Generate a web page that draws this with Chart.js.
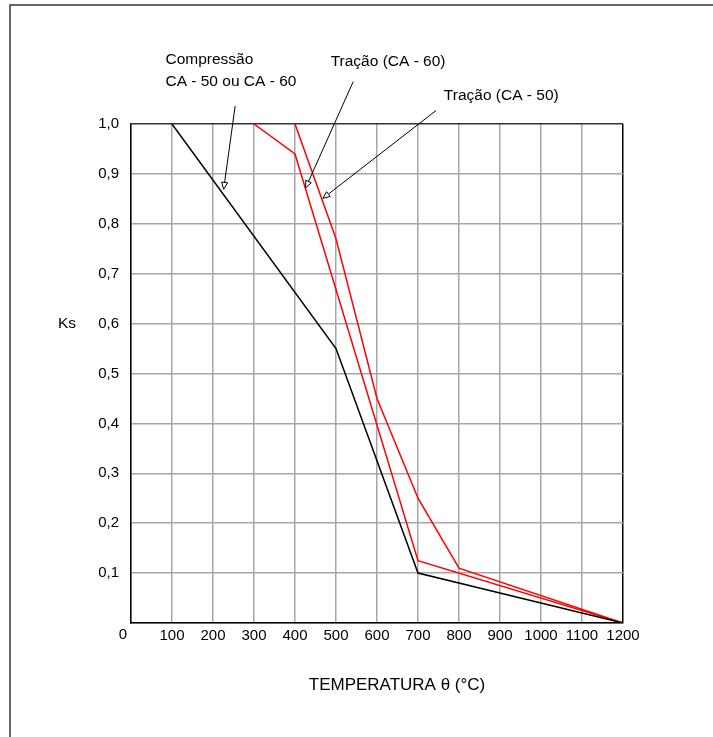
<!DOCTYPE html>
<html>
<head>
<meta charset="utf-8">
<script src="https://cdn.jsdelivr.net/npm/chart.js@4/dist/chart.umd.min.js"></script>
<style>
    body { margin: 0; background: #fff; }
    #wrap { width: 713px; height: 737px; }
</style>
</head>
<body>
<div id="wrap"><canvas id="ks-chart" width="713" height="737"></canvas></div>
<script>
// temperatura (°C) e Ks
const compressaoT = [100, 500, 700, 1200];
const compressaoKs = [1.0, 0.55, 0.10, 0.0];

const tracaoCA60T = [300, 400, 700, 1200];
const tracaoCA60Ks = [1.0, 0.94, 0.125, 0.0];

const tracaoCA50T = [400, 500, 600, 700, 800, 1200];
const tracaoCA50Ks = [1.0, 0.77, 0.45, 0.25, 0.11, 0.0];

const xTitle = "TEMPERATURA θ (°C)";
const yTitle = "Ks";

// textos e setas das legendas, em coordenadas (T, Ks)
const notes = [
    { text: "Compressão", x: 84, y: 1.121 },
    { text: "CA - 50 ou CA - 60", x: 84, y: 1.076 },
    { text: "Tração (CA - 60)", x: 487, y: 1.117 },
    { text: "Tração (CA - 50)", x: 763, y: 1.048 }
];
const arrows = [
    { from: [254, 1.036], to: [226, 0.869] },
    { from: [542, 1.085], to: [426, 0.872] },
    { from: [744, 1.027], to: [468, 0.851] }
];

const FONT = "'Liberation Sans', Arial, sans-serif";
Chart.defaults.font.family = FONT;
Chart.defaults.color = "#000";

function toPoints(xs, ys) {
    return xs.map((x, i) => ({ x, y: ys[i] }));
}

function series(label, xs, ys, color) {
    return {
        label,
        data: toPoints(xs, ys),
        borderColor: color,
        borderWidth: 1.5,
        pointRadius: 0,
        tension: 0,
        fill: false
    };
}

const extras = {
    id: "extras",
    afterDraw(chart) {
        const ctx = chart.ctx;
        const xs = chart.scales.x;
        const ys = chart.scales.y;
        const area = chart.chartArea;

        ctx.save();
        // moldura externa
        ctx.strokeStyle = "#333";
        ctx.lineWidth = 1.5;
        ctx.beginPath();
        ctx.moveTo(10, chart.height);
        ctx.lineTo(10, 5);
        ctx.lineTo(chart.width, 5);
        ctx.stroke();

        ctx.fillStyle = "#000";
        ctx.font = "15.5px " + FONT;
        ctx.textAlign = "left";
        ctx.textBaseline = "alphabetic";
        notes.forEach(n => {
            ctx.fillText(n.text, xs.getPixelForValue(n.x), ys.getPixelForValue(n.y));
        });

        ctx.strokeStyle = "#000";
        ctx.lineWidth = 1;
        arrows.forEach(a => {
            const x0 = xs.getPixelForValue(a.from[0]);
            const y0 = ys.getPixelForValue(a.from[1]);
            const x1 = xs.getPixelForValue(a.to[0]);
            const y1 = ys.getPixelForValue(a.to[1]);
            const ang = Math.atan2(y1 - y0, x1 - x0);
            const len = 7, half = 3;
            const bx = x1 - len * Math.cos(ang);
            const by = y1 - len * Math.sin(ang);
            ctx.beginPath();
            ctx.moveTo(x0, y0);
            ctx.lineTo(bx, by);
            ctx.stroke();
            ctx.beginPath();
            ctx.moveTo(x1, y1);
            ctx.lineTo(bx + half * Math.sin(ang), by - half * Math.cos(ang));
            ctx.lineTo(bx - half * Math.sin(ang), by + half * Math.cos(ang));
            ctx.closePath();
            ctx.fillStyle = "#fff";
            ctx.fill();
            ctx.stroke();
        });

        ctx.fillStyle = "#000";
        // rotulo "0" da origem, um pouco a esquerda do eixo
        ctx.font = "15px " + FONT;
        ctx.textAlign = "center";
        ctx.textBaseline = "top";
        ctx.fillText("0", area.left - 8, area.bottom + 4);

        ctx.font = "17px " + FONT;
        ctx.textBaseline = "middle";
        ctx.fillText(xTitle, (area.left + area.right) / 2 + 20, area.bottom + 62);
        ctx.font = "15.5px " + FONT;
        ctx.fillText(yTitle, 67, ys.getPixelForValue(0.6));
        ctx.restore();
    }
};

new Chart(document.getElementById("ks-chart"), {
    type: "line",
    data: {
        datasets: [
            series("Compressão CA - 50 ou CA - 60", compressaoT, compressaoKs, "#000"),
            series("Tração (CA - 60)", tracaoCA60T, tracaoCA60Ks, "#ff0000"),
            series("Tração (CA - 50)", tracaoCA50T, tracaoCA50Ks, "#ff0000")
        ]
    },
    options: {
        responsive: false,
        animation: false,
        layout: { padding: { left: 0, right: 90, top: 124, bottom: 0 } },
        plugins: {
            legend: { display: false },
            tooltip: { enabled: false }
        },
        scales: {
            x: {
                type: "linear",
                min: 0,
                max: 1200,
                ticks: {
                    stepSize: 100,
                    padding: 4,
                    font: { size: 15 },
                    maxRotation: 0,
                    autoSkip: false,
                    callback: v => v === 0 ? "" : String(v)
                },
                grid: {
                    drawTicks: false,
                    lineWidth: 1.5,
                    color: c => c.tick.value === 1200 ? "#000" : "#a6a6a6"
                },
                border: { color: "#000", width: 1.5 },
                afterFit: s => { s.height = 114; }
            },
            y: {
                min: 0,
                max: 1,
                ticks: {
                    stepSize: 0.1,
                    padding: 12,
                    font: { size: 15 },
                    callback: v => v === 0 ? "" : v.toFixed(1).replace(".", ",")
                },
                grid: {
                    drawTicks: false,
                    lineWidth: 1.5,
                    color: c => c.tick.value === 1 ? "#333" : "#a6a6a6"
                },
                border: { color: "#000", width: 1.5 },
                afterFit: s => { s.width = 131; }
            }
        }
    },
    plugins: [extras]
});
</script>
</body>
</html>
